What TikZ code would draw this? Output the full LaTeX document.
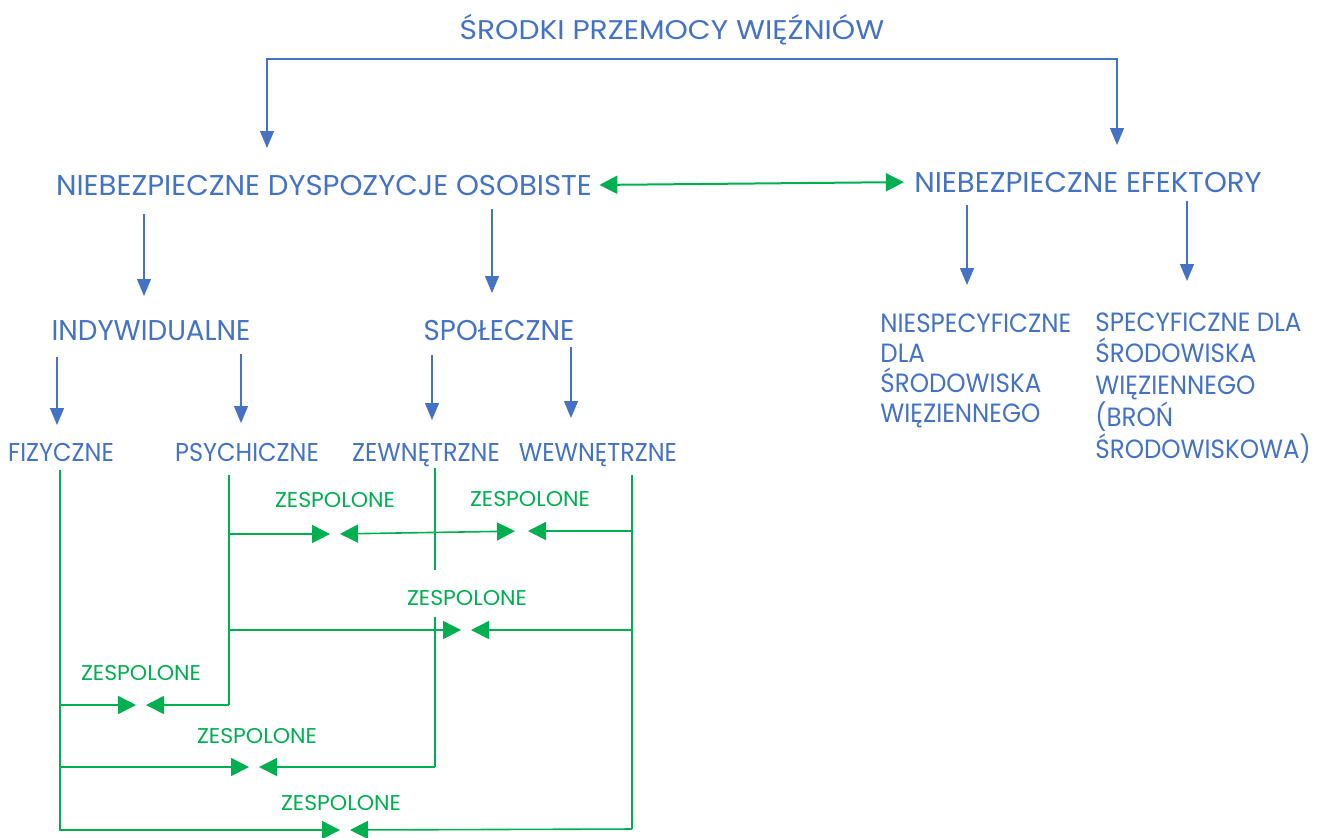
\documentclass[tikz,border=0pt]{standalone}
\usepackage{fontspec}
\usetikzlibrary{calc,arrows.meta}
\newfontfamily\gothmain[FakeStretch=1.02]{Poppins}
\newfontfamily\gothmid[FakeStretch=0.97]{Poppins}
\newfontfamily\gothsmall[FakeStretch=0.93]{Poppins}
\newfontfamily\gothtitle[FakeStretch=1.1]{Poppins}
\newfontfamily\gothlink[FakeStretch=1.03]{Poppins}
\definecolor{officeblue}{HTML}{4472C4}
\definecolor{officegreen}{HTML}{00B050}
\tikzset{
	bluetext/.style={text=officeblue, inner sep=0pt, text height=10pt, text depth=0pt, font=\gothmain\fontsize{14.3}{17}\selectfont},
	midtext/.style={bluetext, font=\gothmid\fontsize{14.3}{17}\selectfont},
	titletext/.style={bluetext, text height=9pt, font=\gothtitle\fontsize{13.5}{16}\selectfont},
	smalltext/.style={bluetext, text height=9pt, font=\gothsmall\fontsize{12.9}{15}\selectfont},
	multitext/.style={text=officeblue, inner sep=0pt, anchor=north west, align=left, font=\gothsmall\fontsize{13.2}{15}\selectfont},
	zesptext/.style={text=officegreen, inner sep=0pt, text height=7.5pt, text depth=0pt, font=\gothlink\fontsize{10.7}{13}\selectfont},
	bluearrow/.style={draw=officeblue, line width=0.6pt, -{Triangle[length=8.5pt,width=7pt]}},
	bluebracket/.style={draw=officeblue, line width=0.6pt, {Triangle[length=8.5pt,width=7pt]}-{Triangle[length=8.5pt,width=7pt]}},
	greenline/.style={draw=officegreen, line width=0.8pt},
	greenarrow/.style={greenline, -{Triangle[length=9pt,width=9pt]}, shorten >=2.5pt},
	greenboth/.style={greenline, {Triangle[length=9pt,width=9pt]}-{Triangle[length=9pt,width=9pt]}}
}
\begin{document}
\begin{tikzpicture}[x=0.5pt,y=-0.5pt]
		%%%%% START %%%%%
		\fill[white] (0,0) rectangle (1320,837);
		\useasboundingbox (0,0) rectangle (1320,837);
		
		\node[titletext] (title) at (672,30) {ŚRODKI PRZEMOCY WIĘŹNIÓW};
		\node[bluetext] (dyspo) at (324,185) {NIEBEZPIECZNE DYSPOZYCJE OSOBISTE};
		\node[bluetext] (efekt) at (1088,182) {NIEBEZPIECZNE EFEKTORY};
		
		\node[midtext] (indyw) at (151,330) {INDYWIDUALNE};
		\node[midtext] (spol) at (499,330) {SPOŁECZNE};
		\node[multitext] (niespec) at (880,313) {NIESPECYFICZNE\\DLA\\ŚRODOWISKA\\WIĘZIENNEGO};
		\node[multitext, font=\gothsmall\fontsize{13.2}{15.9}\selectfont] (specyf) at (1095,312) {SPECYFICZNE DLA\\ŚRODOWISKA\\WIĘZIENNEGO\\(BROŃ\\ŚRODOWISKOWA)};
		
		\node[smalltext] (fizycz) at (61,452) {FIZYCZNE};
		\node[smalltext] (psych) at (247,452) {PSYCHICZNE};
		\node[smalltext] (zewn) at (426,452) {ZEWNĘTRZNE};
		\node[smalltext] (wewn) at (598,452) {WEWNĘTRZNE};
		
		\node[zesptext] (zespA) at (335,500) {ZESPOLONE};
		\node[zesptext] (zespB) at (530,499) {ZESPOLONE};
		\node[zesptext] (zespC) at (467,598) {ZESPOLONE};
		\node[zesptext] (zespD) at (141,673) {ZESPOLONE};
		\node[zesptext] (zespE) at (257,736) {ZESPOLONE};
		\node[zesptext] (zespF) at (341,803) {ZESPOLONE};
		
		% arrow tips
		\coordinate (dyspo-in) at (267,148);
		\coordinate (efekt-in) at (1117,145);
		\coordinate (bracket) at (672,59);
		\coordinate (indyw-in) at (144,296);
		\coordinate (spol-in) at (492,293);
		\coordinate (niespec-in) at (967,285);
		\coordinate (specyf-in) at (1187,281);
		\coordinate (fizycz-in) at (57,425);
		\coordinate (psych-in) at (241,423);
		\coordinate (zewn-in) at (432,420);
		\coordinate (wewn-in) at (571,418);
		
		\draw[bluebracket] (dyspo-in) -- (dyspo-in |- bracket) -- (efekt-in |- bracket) -- (efekt-in);
		\draw[greenboth, line width=1pt, shorten <=3.5pt, shorten >=5pt] (dyspo.east) -- (efekt.west);
		
		\draw[bluearrow, shorten <=9.5pt] (dyspo.south -| indyw-in) -- (indyw-in);
		\draw[bluearrow, shorten <=7pt] (dyspo.south -| spol-in) -- (spol-in);
		\draw[bluearrow, shorten <=6.5pt] (efekt.south -| niespec-in) -- (niespec-in);
		\draw[bluearrow, shorten <=4.5pt] (efekt.south -| specyf-in) -- (specyf-in);
		
		\draw[bluearrow, shorten <=8.5pt] (indyw.south -| fizycz-in) -- (fizycz-in);
		\draw[bluearrow, shorten <=7pt] (indyw.south -| psych-in) -- (psych-in);
		\draw[bluearrow, shorten <=7.5pt] (spol.south -| zewn-in) -- (zewn-in);
		\draw[bluearrow, shorten <=3.5pt] (spol.south -| wewn-in) -- (wewn-in);
		
		% green links
		\coordinate (fizycz-end) at (60,831);
		\coordinate (psych-end) at (229,705);
		\coordinate (zewn-end) at (435,767);
		\coordinate (wewn-end) at (632,829);
		
		\draw[greenline, shorten <=4.5pt] (fizycz.south -| fizycz-end) -- (fizycz-end);
		\draw[greenline, shorten <=7pt] (psych.south -| psych-end) -- (psych-end);
		\draw[greenline, shorten <=3.5pt, shorten >=10pt] (zewn.south -| zewn-end) -- (zespC.north -| zewn-end);
		\draw[greenline, shorten <=5.5pt] (zespC.south -| zewn-end) -- (zewn-end);
		\draw[greenline, shorten <=7pt] (wewn.south -| wewn-end) -- (wewn-end);
		
		\coordinate (meetA) at (335,534);
		\coordinate (meetB) at (523,531);
		\coordinate (meetC) at (466,630);
		\coordinate (meetD) at (141,705);
		\coordinate (meetE) at (254,767);
		\coordinate (meetF) at (345,830);
		
		\draw[greenarrow] (psych-end |- meetA) -- (meetA);
		\draw[greenboth, shorten <=2.5pt, shorten >=4pt] (meetA) -- (meetB);
		\draw[greenarrow] (wewn-end |- meetB) -- (meetB);
		\draw[greenarrow] (psych-end |- meetC) -- (meetC);
		\draw[greenarrow] (wewn-end |- meetC) -- (meetC);
		\draw[greenarrow] (fizycz-end |- meetD) -- (meetD);
		\draw[greenarrow] (psych-end) -- (meetD);
		\draw[greenarrow] (fizycz-end |- meetE) -- (meetE);
		\draw[greenarrow] (zewn-end) -- (meetE);
		\draw[greenarrow] (fizycz-end |- meetF) -- (meetF);
		\draw[greenarrow] (wewn-end) -- (meetF);
		%%%%% END %%%%%
\end{tikzpicture}
\end{document}
